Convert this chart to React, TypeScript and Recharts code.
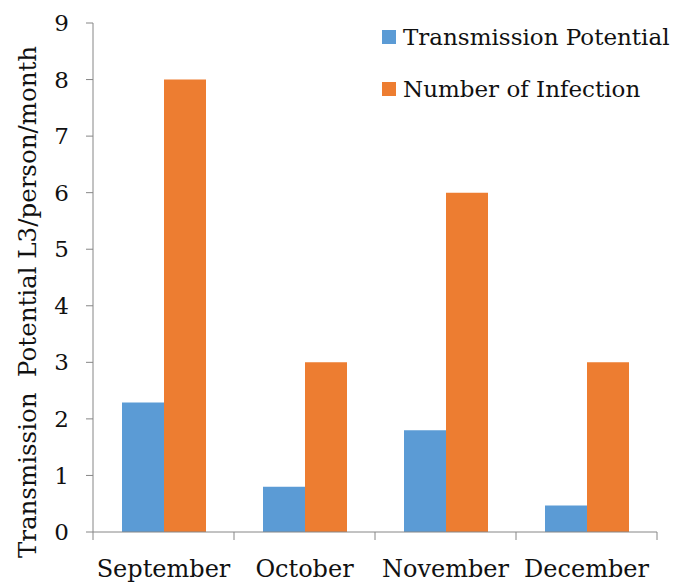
import { BarChart, Bar, XAxis, YAxis } from 'recharts';

const months = ['September', 'October', 'November', 'December'];
const transmissionPotential = [2.29, 0.8, 1.8, 0.47];
const numberOfInfection = [8, 3, 6, 3];
const yTicks = [0, 1, 2, 3, 4, 5, 6, 7, 8, 9];

const data = months.map((m, i) => ({
  month: m,
  tp: transmissionPotential[i],
  ni: numberOfInfection[i],
}));

const W = 678;
const H = 583;
const M = { top: 23, right: 21, bottom: 21, left: 0 };
const Y_W = 93;
const FONT = '"DejaVu Serif", serif';
const AXIS = '#868686';
const BLUE = '#5B9BD5';
const ORANGE = '#ED7D31';

const bandHalf = (W - M.left - M.right - Y_W) / months.length / 2;

// recharts hands the tick a y already pushed 8px below the axis line
function MonthTick(props: any) {
  const { x, y, payload, index } = props;
  const axisY = y - 8;
  const last = index === months.length - 1;
  return (
    <g>
      <line x1={x - bandHalf} x2={x - bandHalf} y1={axisY} y2={axisY + 8} stroke={AXIS} />
      {last && <line x1={x + bandHalf} x2={x + bandHalf} y1={axisY} y2={axisY + 8} stroke={AXIS} />}
      <text x={x} y={axisY + 45} textAnchor="middle" fontSize={24} fontFamily={FONT} fill="#111">
        {payload.value}
      </text>
    </g>
  );
}

function YTitle() {
  return (
    <text
      x={0}
      y={0}
      transform="translate(36, 302) rotate(-90)"
      textAnchor="middle"
      fontSize={24.5}
      fontFamily={FONT}
      fill="#111"
      style={{ whiteSpace: 'pre' }}
    >
      {'Transmission  Potential L3/person/month'}
    </text>
  );
}

const legendItems = [
  { label: 'Transmission Potential', color: BLUE },
  { label: 'Number of Infection', color: ORANGE },
];

export default function App() {
  return (
    <div style={{ position: 'absolute', left: 0, top: 0, width: W, height: H, background: '#fff' }}>
      <BarChart width={W} height={H} data={data} margin={M} barGap={0} barCategoryGap={29}>
        <XAxis
          dataKey="month"
          axisLine={{ stroke: AXIS }}
          tickLine={false}
          tick={<MonthTick />}
          interval={0}
        />
        <YAxis
          width={Y_W}
          domain={[0, 9]}
          ticks={yTicks}
          interval={0}
          axisLine={{ stroke: AXIS }}
          tickLine={{ stroke: AXIS }}
          tickSize={7}
          tickMargin={17}
          tick={{ fontSize: 23, fontFamily: FONT, fill: '#111' }}
          label={<YTitle />}
        />
        <Bar dataKey="tp" name="Transmission Potential" fill={BLUE} isAnimationActive={false} />
        <Bar dataKey="ni" name="Number of Infection" fill={ORANGE} isAnimationActive={false} />
      </BarChart>
      <div style={{ position: 'absolute', left: 382, top: 11, fontFamily: FONT, fontSize: 23, color: '#111' }}>
        {legendItems.map((it) => (
          <div key={it.label} style={{ display: 'flex', alignItems: 'center', height: 52, whiteSpace: 'nowrap' }}>
            <span style={{ width: 14, height: 14, background: it.color, marginRight: 7 }} />
            <span>{it.label}</span>
          </div>
        ))}
      </div>
    </div>
  );
}
